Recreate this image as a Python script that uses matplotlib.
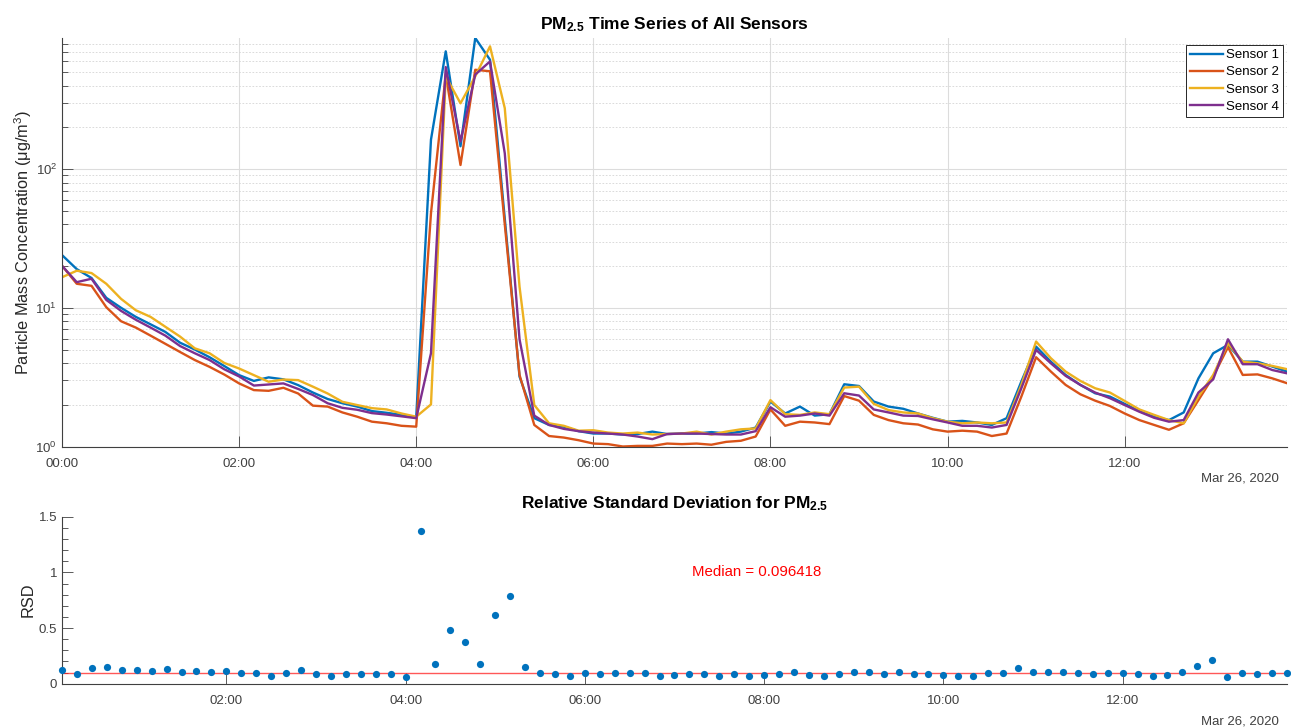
import numpy as np
import pandas as pd
import matplotlib
matplotlib.use("Agg")
import matplotlib.pyplot as plt
import matplotlib.dates as mdates
from matplotlib.ticker import LogLocator, MultipleLocator, NullFormatter

plt.rcParams['font.family'] = ['Liberation Sans', 'DejaVu Sans']
plt.rcParams['mathtext.fontset'] = 'custom'
plt.rcParams['mathtext.rm'] = 'Liberation Sans'
plt.rcParams['mathtext.bf'] = 'Liberation Sans:bold'
plt.rcParams['mathtext.it'] = 'Liberation Sans:italic'

# 10 minute averages, 00:00 - 13:50
times = pd.date_range('2020-03-26 00:00', periods=84, freq='10min')

sensor1 = [24.0, 19.0, 16.4, 11.8, 10.0, 8.6, 7.6, 6.7, 5.6, 5.0, 4.4, 3.8, 3.27, 2.97, 3.15, 3.05, 2.77, 2.45, 2.2, 2.05, 1.94, 1.8, 1.75, 1.69, 1.62,
           163, 706, 146, 881, 614, 44, 3.19, 1.60, 1.43, 1.39, 1.29, 1.24, 1.24, 1.22, 1.23, 1.28, 1.23, 1.24, 1.24, 1.27, 1.24, 1.28, 1.37, 2.11, 1.73, 1.94, 1.67, 1.71, 2.81,
           2.73, 2.11, 1.94, 1.87, 1.73, 1.61, 1.51, 1.53, 1.49, 1.43, 1.60, 2.94, 5.25, 4.09, 3.28, 2.78, 2.42, 2.29, 2.03, 1.80, 1.64, 1.55, 1.76, 3.10, 4.70, 5.40, 4.09, 4.09, 3.77, 3.47]
sensor2 = [20.1, 14.9, 14.4, 10.1, 8.0, 7.2, 6.3, 5.5, 4.8, 4.2, 3.75, 3.3, 2.85, 2.55, 2.52, 2.65, 2.41, 1.97, 1.94, 1.76, 1.64, 1.51, 1.47, 1.41, 1.39,
           48, 480, 107, 520, 507, 40, 3.28, 1.43, 1.19, 1.16, 1.11, 1.05, 1.04, 1.0, 1.01, 1.01, 1.05, 1.04, 1.05, 1.03, 1.08, 1.10, 1.18, 1.85, 1.41, 1.51, 1.49, 1.45, 2.31,
           2.14, 1.69, 1.55, 1.47, 1.44, 1.33, 1.28, 1.30, 1.28, 1.19, 1.24, 2.29, 4.40, 3.47, 2.78, 2.38, 2.14, 1.96, 1.73, 1.55, 1.43, 1.32, 1.47, 2.16, 3.19, 5.2, 3.28, 3.31, 3.10, 2.86]
sensor3 = [16.6, 18.5, 17.8, 14.9, 11.6, 9.6, 8.6, 7.3, 6.2, 5.1, 4.7, 4.0, 3.65, 3.27, 2.93, 3.04, 3.01, 2.70, 2.41, 2.10, 1.99, 1.89, 1.85, 1.73, 1.64,
           2.01, 466, 298, 466, 767, 275, 14.2, 1.99, 1.47, 1.41, 1.30, 1.31, 1.26, 1.24, 1.26, 1.22, 1.23, 1.24, 1.28, 1.22, 1.28, 1.33, 1.35, 2.16, 1.71, 1.69, 1.76, 1.71, 2.66,
           2.70, 2.03, 1.83, 1.76, 1.73, 1.60, 1.51, 1.47, 1.49, 1.47, 1.49, 2.78, 5.71, 4.33, 3.47, 2.97, 2.63, 2.45, 2.13, 1.85, 1.69, 1.55, 1.47, 2.29, 3.28, 5.55, 4.09, 3.98, 3.81, 3.61]
sensor4 = [20.1, 15.3, 16.2, 11.4, 9.5, 8.2, 7.2, 6.3, 5.3, 4.7, 4.2, 3.6, 3.2, 2.75, 2.8, 2.85, 2.6, 2.35, 2.05, 1.9, 1.84, 1.74, 1.7, 1.65, 1.6,
           4.70, 544, 158, 480, 597, 130, 5.93, 1.67, 1.43, 1.34, 1.29, 1.26, 1.24, 1.22, 1.18, 1.13, 1.23, 1.24, 1.24, 1.23, 1.22, 1.22, 1.29, 1.92, 1.64, 1.67, 1.73, 1.67, 2.42,
           2.33, 1.85, 1.76, 1.67, 1.66, 1.57, 1.49, 1.41, 1.41, 1.37, 1.43, 2.63, 4.97, 3.98, 3.23, 2.78, 2.45, 2.23, 1.99, 1.78, 1.61, 1.51, 1.55, 2.45, 3.05, 5.93, 3.92, 3.92, 3.56, 3.37]
sensor_names = ['Sensor 1', 'Sensor 2', 'Sensor 3', 'Sensor 4']
sensor_colors = ['#0072BD', '#D95319', '#EDB120', '#7E2F8E']

# relative standard deviation between sensors, from 00:10
rsd = [0.120, 0.084, 0.144, 0.153, 0.126, 0.123, 0.111, 0.132, 0.102, 0.111, 0.102, 0.111,
       0.096, 0.096, 0.066, 0.096, 0.120, 0.090, 0.072, 0.087, 0.090, 0.090, 0.087, 0.063,
       1.374, 0.180, 0.479, 0.374, 0.174, 0.617, 0.787, 0.147, 0.093, 0.087, 0.069, 0.093,
       0.084, 0.096, 0.093, 0.099, 0.072, 0.081, 0.090, 0.087, 0.072, 0.084, 0.069, 0.081,
       0.090, 0.102, 0.075, 0.072, 0.087, 0.108, 0.105, 0.084, 0.102, 0.090, 0.087, 0.078,
       0.066, 0.066, 0.093, 0.099, 0.138, 0.105, 0.108, 0.105, 0.093, 0.087, 0.096, 0.096,
       0.084, 0.072, 0.081, 0.102, 0.159, 0.213, 0.057, 0.099, 0.090, 0.093, 0.099]
rsd_median = 0.096418

axis_col = '#404040'
W, H = 1291, 728

fig = plt.figure(figsize=(W / 100, H / 100), dpi=100)


def style_axes(ax):
    for side in ['top', 'right']:
        ax.spines[side].set_visible(False)
    for side in ['left', 'bottom']:
        ax.spines[side].set_color(axis_col)
        ax.spines[side].set_linewidth(0.8)
    ax.tick_params(which='both', direction='in', colors=axis_col, labelsize=9.5, width=0.6)
    ax.tick_params(which='major', length=8)
    ax.tick_params(which='minor', length=4)
    ax.tick_params(axis='x', pad=8)
    ax.xaxis.set_major_locator(mdates.HourLocator(interval=2))
    ax.xaxis.set_major_formatter(mdates.DateFormatter('%H:%M'))


# --- top: time series ---
ax1 = fig.add_axes([62 / W, 1 - 446.5 / H, 1225 / W, 408.5 / H])
all_vals = []
for vals, name, col in zip([sensor1, sensor2, sensor3, sensor4], sensor_names, sensor_colors):
    ax1.plot(times, vals, color=col, lw=1.7, label=name)
    all_vals += vals
ax1.set_yscale('log')
ax1.set_xlim(times[0], times[-1])
ax1.set_ylim(min(all_vals), max(all_vals))
ax1.yaxis.set_major_locator(LogLocator(base=10, numticks=10))
ax1.yaxis.set_minor_locator(LogLocator(base=10, subs=np.arange(2, 10), numticks=10))
ax1.yaxis.set_minor_formatter(NullFormatter())
style_axes(ax1)
ax1.grid(True, which='major', color='#dcdcdc', lw=0.8)
ax1.grid(True, which='minor', axis='y', color='#d4d4d4', lw=0.6, ls=(0, (2, 2)))
ax1.set_axisbelow(True)
ax1.set_ylabel('Particle Mass Concentration (\u03bcg/m$^3$)', fontsize=11.8, color='#262626',
               labelpad=1)
ax1.set_title(r'$\mathbf{PM_{2.5}}$ Time Series of All Sensors', fontsize=12.5,
              fontweight='bold', color='black', pad=6)
leg = ax1.legend(loc='upper right', bbox_to_anchor=(0.9967, 0.983), borderaxespad=0,
                 fancybox=False, edgecolor='#262626', framealpha=1, fontsize=9.5,
                 handlelength=2.5, handletextpad=0.2, labelspacing=0.38, borderpad=0.3)
leg.get_frame().set_linewidth(0.7)
ax1.text(0.993, -0.063, 'Mar 26, 2020', transform=ax1.transAxes, ha='right', va='top',
         fontsize=9.5, color=axis_col)

# --- bottom: relative standard deviation ---
ax2 = fig.add_axes([62 / W, 1 - 683.7 / H, 1225 / W, 167 / H])
ax2.plot(times[1:], rsd, 'o', color='#0072BD', ms=5.2, mec='none', clip_on=False, zorder=3)
ax2.axhline(rsd_median, color='#ff2020', lw=1.0, alpha=0.75)
ax2.set_xlim(times[1], times[-1])
ax2.set_ylim(0, 1.5)
ax2.yaxis.set_major_locator(MultipleLocator(0.5))
ax2.yaxis.set_minor_locator(MultipleLocator(0.1))
ax2.yaxis.set_major_formatter(plt.FuncFormatter(lambda v, p: f'{v:g}'))
style_axes(ax2)
ax2.set_ylabel('RSD', fontsize=11.8, color='#262626', labelpad=2)
ax2.set_title(r'Relative Standard Deviation for $\mathbf{PM_{2.5}}$', fontsize=12.5,
              fontweight='bold', color='black', pad=6)
ax2.text(pd.Timestamp('2020-03-26 07:12'), 1.0, f'Median = {rsd_median:g}', color='red',
         fontsize=10.8, va='center', ha='left')
ax2.text(0.993, -0.19, 'Mar 26, 2020', transform=ax2.transAxes, ha='right', va='top',
         fontsize=9.5, color=axis_col)

fig.savefig('out.png', dpi=100)
